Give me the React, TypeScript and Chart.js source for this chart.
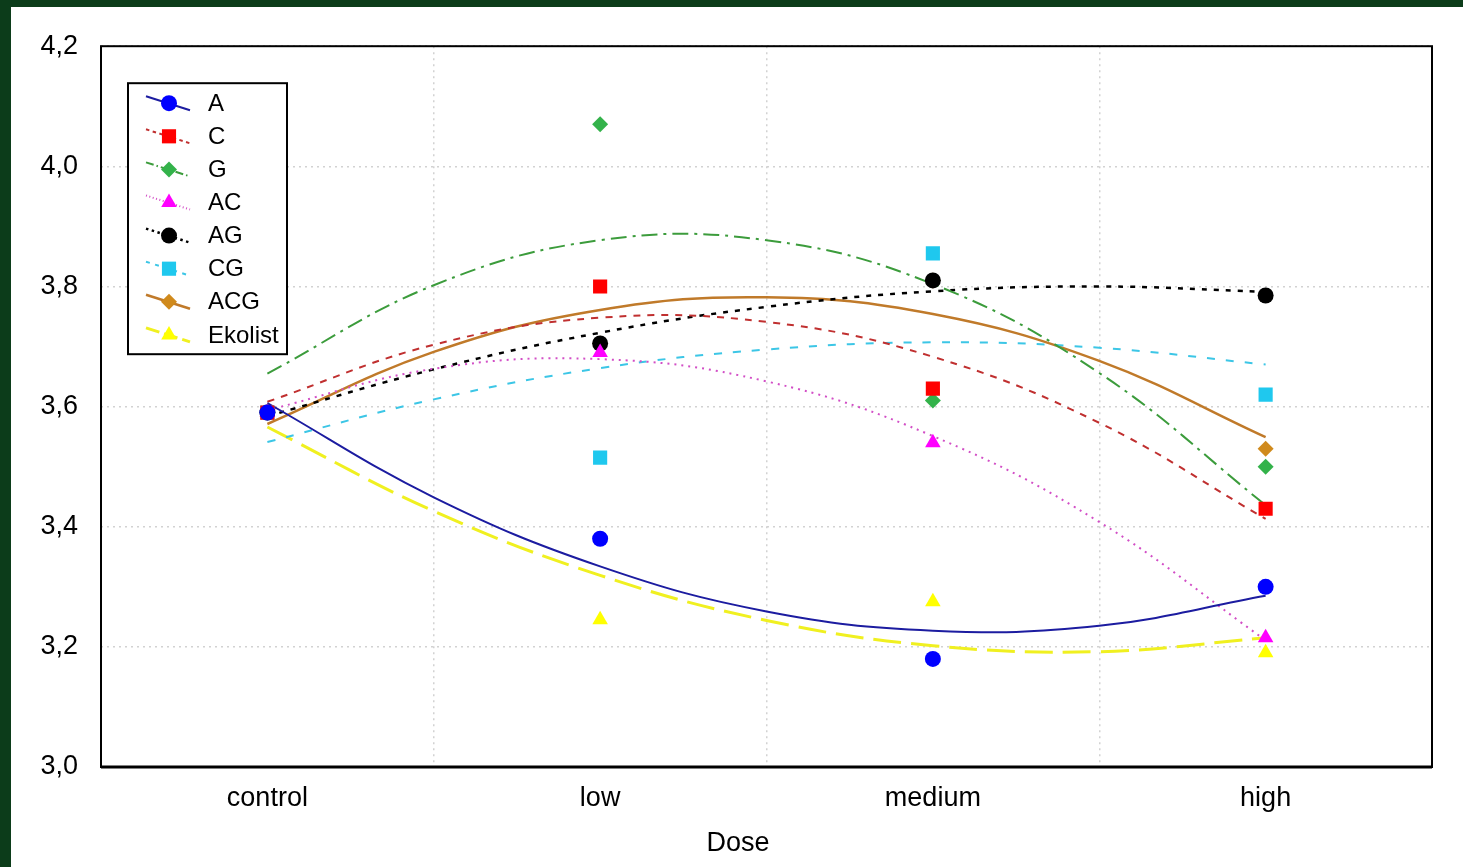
import React, { useEffect, useRef } from 'react';
import { Chart, registerables } from 'chart.js';

Chart.register(...registerables);

// ---------------- data ----------------
const categories = ['control', 'low', 'medium', 'high'];
const yTickValues = [3.0, 3.2, 3.4, 3.6, 3.8, 4.0, 4.2];
const seriesNames = ['A', 'C', 'G', 'AC', 'AG', 'CG', 'ACG', 'Ekolist'];
const xTitle = 'Dose';

const pointsA = [3.59, 3.38, 3.18, 3.3];
const pointsC = [3.59, 3.8, 3.63, 3.43];
const pointsG = [3.59, 4.07, 3.61, 3.5];
const pointsAC = [3.59, 3.69, 3.54, 3.215];
const pointsAG = [3.59, 3.705, 3.81, 3.785];
const pointsCG = [3.59, 3.515, 3.855, 3.62];
const pointsACG = [3.59, 3.705, 3.81, 3.53];
const pointsEkolist = [3.59, 3.245, 3.275, 3.19];

// fitted curves at control, half-steps and high
const fitX = [0, 0.5, 1, 1.5, 2, 2.5, 3];
const fitA = [3.606, 3.449, 3.334, 3.259, 3.227, 3.235, 3.285];
const fitC = [3.608, 3.703, 3.748, 3.741, 3.683, 3.573, 3.413];
const fitG = [3.655, 3.802, 3.877, 3.877, 3.804, 3.656, 3.436];
const fitAC = [3.594, 3.663, 3.679, 3.642, 3.551, 3.408, 3.211];
const fitAG = [3.584, 3.662, 3.723, 3.766, 3.792, 3.8, 3.791];
const fitCG = [3.541, 3.612, 3.664, 3.695, 3.707, 3.698, 3.67];
const fitACG = [3.571, 3.691, 3.761, 3.782, 3.754, 3.676, 3.549];
const fitEkolist = [3.566, 3.426, 3.319, 3.244, 3.202, 3.192, 3.215];

const allPoints = [pointsA, pointsC, pointsG, pointsAC, pointsAG, pointsCG, pointsACG, pointsEkolist];
const allFits = [fitA, fitC, fitG, fitAC, fitAG, fitCG, fitACG, fitEkolist];

// ---------------- styles ----------------
const pointColors = ['#0000ff', '#ff0000', '#33b24a', '#ff00ff', '#000000', '#1fc8ee', '#d08a1c', '#ffff00'];
const lineColors = ['#1c1ca0', '#c03030', '#3c9c3c', '#d24ec6', '#000000', '#3cc6e6', '#c07a2a', '#f0f020'];
const pointStyles = ['circle', 'rect', 'rectRot', 'triangle', 'circle', 'rect', 'rectRot', 'triangle'];
const pointRadii = [8, 10, 8, 9, 8, 10, 8, 9];
const dashes: number[][] = [[], [7, 7], [16, 6, 3, 6], [2, 5], [5, 7], [8, 11], [], [28, 10]];
const lineWidths = [2, 2, 2, 2, 2.5, 2, 2.5, 3];

const FONT = '"Liberation Sans", Arial, sans-serif';

function drawMarker(ctx: CanvasRenderingContext2D, style: string, x: number, y: number, r: number, color: string) {
  ctx.save();
  ctx.setLineDash([]);
  ctx.fillStyle = color;
  ctx.beginPath();
  if (style === 'circle') {
    ctx.arc(x, y, r, 0, Math.PI * 2);
  } else if (style === 'rect') {
    const s = r * Math.SQRT1_2;
    ctx.rect(x - s, y - s, 2 * s, 2 * s);
  } else if (style === 'rectRot') {
    ctx.moveTo(x, y - r);
    ctx.lineTo(x + r, y);
    ctx.lineTo(x, y + r);
    ctx.lineTo(x - r, y);
    ctx.closePath();
  } else {
    for (let k = 0; k < 3; k++) {
      const a = (k * 2 * Math.PI) / 3;
      const px = x + Math.sin(a) * r;
      const py = y - Math.cos(a) * r;
      if (k === 0) ctx.moveTo(px, py);
      else ctx.lineTo(px, py);
    }
    ctx.closePath();
  }
  ctx.fill();
  ctx.restore();
}

const framePlugin = {
  id: 'frameAndLegend',
  afterDraw(chart: any) {
    const ctx: CanvasRenderingContext2D = chart.ctx;
    const a = chart.chartArea;
    ctx.save();
    ctx.setLineDash([]);
    ctx.strokeStyle = '#000';
    ctx.lineWidth = 2;
    ctx.strokeRect(a.left, a.top, a.right - a.left, a.bottom - a.top);
    ctx.lineWidth = 3;
    ctx.beginPath();
    ctx.moveTo(a.left, a.bottom);
    ctx.lineTo(a.right, a.bottom);
    ctx.stroke();

    // axis title
    ctx.fillStyle = '#000';
    ctx.font = '27px ' + FONT;
    ctx.textAlign = 'center';
    ctx.textBaseline = 'middle';
    ctx.fillText(xTitle, 727, 837);

    // legend
    const lx = a.left + 27;
    const ly = a.top + 37;
    const lw = 159;
    const lh = 271;
    ctx.fillStyle = '#ffffff';
    ctx.fillRect(lx, ly, lw, lh);
    ctx.lineWidth = 2;
    ctx.strokeStyle = '#000';
    ctx.strokeRect(lx, ly, lw, lh);
    ctx.font = '24px ' + FONT;
    ctx.textBaseline = 'middle';
    ctx.textAlign = 'left';
    seriesNames.forEach((name, i) => {
      const y = ly + 20 + i * 33.1;
      ctx.save();
      ctx.strokeStyle = lineColors[i];
      ctx.lineWidth = lineWidths[i];
      ctx.setLineDash(dashes[i].map((d) => Math.max(1, d * 0.5)));
      ctx.beginPath();
      ctx.moveTo(lx + 18, y - 7);
      ctx.lineTo(lx + 62, y + 7);
      ctx.stroke();
      ctx.restore();
      drawMarker(ctx, pointStyles[i], lx + 41, y, pointRadii[i], pointColors[i]);
      ctx.fillStyle = '#000';
      ctx.fillText(name, lx + 80, y + 1);
    });
    ctx.restore();
  },
};

export default function App() {
  const canvasRef = useRef<HTMLCanvasElement | null>(null);

  useEffect(() => {
    if (!canvasRef.current) return;
    const datasets: any[] = [];
    seriesNames.forEach((name, i) => {
      datasets.push({
        label: name + ' fit',
        data: fitX.map((x, j) => ({ x, y: allFits[i][j] })),
        borderColor: lineColors[i],
        borderWidth: lineWidths[i],
        borderDash: dashes[i],
        pointRadius: 0,
        tension: 0.4,
        fill: false,
        order: 2,
      });
    });
    seriesNames.forEach((name, i) => {
      datasets.push({
        label: name,
        data: allPoints[i].map((v, j) => ({ x: j, y: v })),
        showLine: false,
        pointStyle: pointStyles[i],
        pointRadius: pointRadii[i],
        pointBackgroundColor: pointColors[i],
        pointBorderColor: pointColors[i],
        pointBorderWidth: 0,
        borderColor: pointColors[i],
        backgroundColor: pointColors[i],
        order: 1,
      });
    });

    const chart = new Chart(canvasRef.current, {
      type: 'line',
      data: { datasets },
      plugins: [framePlugin],
      options: {
        responsive: false,
        animation: false,
        layout: { padding: { top: 38, right: 31, left: 0, bottom: 0 } },
        plugins: {
          legend: { display: false },
          tooltip: { enabled: false },
        },
        scales: {
          x: {
            type: 'linear',
            min: -0.5,
            max: 3.5,
            afterBuildTicks: (scale: any) => {
              scale.ticks = categories.map((_, i) => ({ value: i }));
            },
            afterFit: (scale: any) => {
              scale.height = 100;
            },
            border: { display: false, dash: [2, 4] },
            grid: {
              offset: true,
              color: '#d2d2d2',
              lineWidth: 1.5,
              drawTicks: false,
            },
            ticks: {
              padding: 15,
              color: '#000',
              font: { family: FONT, size: 27 },
              maxRotation: 0,
              autoSkip: false,
              callback: (v: any) => categories[Math.round(Number(v))] ?? '',
            },
          },
          y: {
            type: 'linear',
            min: 3.0,
            max: 4.2,
            afterBuildTicks: (scale: any) => {
              scale.ticks = yTickValues.map((v) => ({ value: v }));
            },
            afterFit: (scale: any) => {
              scale.width = 90;
            },
            border: { display: false, dash: [2, 4] },
            grid: {
              color: '#d2d2d2',
              lineWidth: 1.5,
              drawTicks: false,
            },
            ticks: {
              padding: 23,
              color: '#000',
              font: { family: FONT, size: 27 },
              callback: (v: any) => Number(v).toFixed(1).replace('.', ','),
            },
          },
        },
      } as any,
    });
    return () => chart.destroy();
  }, []);

  return (
    <div
      style={{
        position: 'fixed',
        left: 0,
        top: 0,
        width: 1463,
        height: 867,
        background: '#0c3c1a',
        overflow: 'hidden',
      }}
    >
      <div
        style={{
          position: 'absolute',
          left: 11,
          top: 7,
          width: 1452,
          height: 860,
          background: '#ffffff',
        }}
      >
        <canvas ref={canvasRef} width={1452} height={860} style={{ display: 'block' }} />
      </div>
    </div>
  );
}
